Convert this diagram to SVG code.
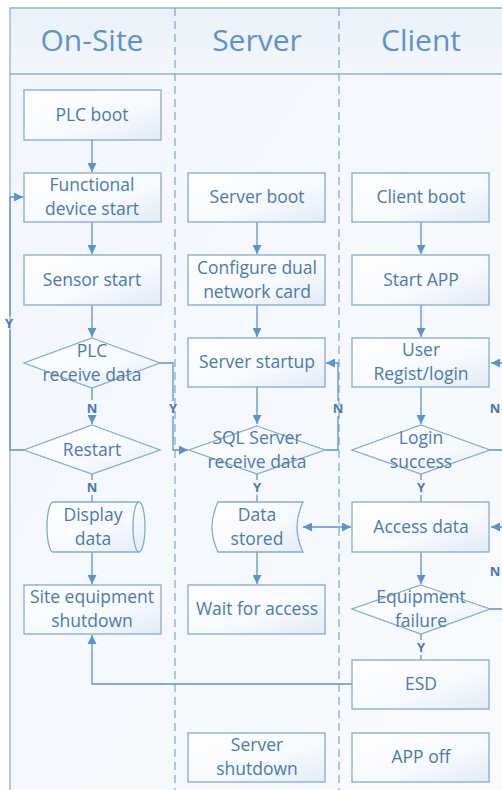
<svg xmlns="http://www.w3.org/2000/svg" width="502" height="790" viewBox="0 0 502 790">
<defs>
<linearGradient id="bg" x1="0" y1="0" x2="1" y2="1">
<stop offset="0" stop-color="#f2f6fb"/><stop offset="1" stop-color="#f8fafd"/>
</linearGradient>
<linearGradient id="hd" x1="0" y1="0" x2="0" y2="1">
<stop offset="0" stop-color="#eaf1f9"/><stop offset="1" stop-color="#f4f7fb"/>
</linearGradient>
<linearGradient id="nf" x1="0" y1="0" x2="1" y2="1">
<stop offset="0" stop-color="#ffffff"/><stop offset="0.6" stop-color="#f6f9fd"/><stop offset="1" stop-color="#e2ebf5"/>
</linearGradient>
<marker id="ar" viewBox="0 0 10 10" refX="10" refY="5" markerWidth="9" markerHeight="9" orient="auto-start-reverse" markerUnits="userSpaceOnUse">
<path d="M0,0 L10,5 L0,10 z" fill="#5b93cf"/>
</marker>
<style>
.n{fill:url(#nf);stroke:#86a9cf;stroke-width:1.3}
.t{font-family:"Open Sans","Noto Sans",sans-serif;font-size:17.5px;fill:#4a7ab0;text-anchor:middle}
.h{font-family:"Open Sans","Noto Sans",sans-serif;font-size:30px;fill:#5a93cf;text-anchor:middle}
.l{font-family:"Open Sans","Noto Sans",sans-serif;font-size:13px;font-weight:bold;fill:#4a7ab0;text-anchor:middle}
.c{fill:none;stroke:#5b93cf;stroke-width:1.3}
.lane{stroke:#7ea6cf;stroke-width:1.2;stroke-dasharray:8,5;fill:none}
</style>
</defs>
<rect x="0" y="0" width="502" height="790" fill="#ffffff"/>
<rect x="10" y="8" width="500" height="790" fill="url(#bg)"/>
<rect x="10" y="8" width="500" height="66" fill="url(#hd)"/>
<g id="frame">
<path d="M10,790 L10,8 L502,8" fill="none" stroke="#8fb2d6" stroke-width="1.3"/>
<path d="M10,74 L502,74" stroke="#8fb2d6" stroke-width="1.3"/>
<path class="lane" d="M175,8 L175,790"/>
<path class="lane" d="M339,8 L339,790"/>
<text class="h" x="92" y="51">On-Site</text>
<text class="h" x="257" y="51">Server</text>
<text class="h" x="421" y="51">Client</text>
</g>
<g id="connectors">
<path class="c" d="M92,140 L92,172" marker-end="url(#ar)"/>
<path class="c" d="M92,222 L92,254" marker-end="url(#ar)"/>
<path class="c" d="M92,305 L92,337" marker-end="url(#ar)"/>
<path class="c" d="M92,388 L92,400 M92,415 L92,424" marker-end="url(#ar)"/>
<path class="c" d="M92,474 L92,480 M92,495 L92,502"/>
<path class="c" d="M92,552 L92,584" marker-end="url(#ar)"/>
<path class="c" d="M24,450 L10,450 L10,330 M10,316 L10,197 L23,197" marker-end="url(#ar)"/>
<path class="c" d="M160,363 L173,363 L173,401 M173,416 L173,450 L188,450" marker-end="url(#ar)"/>
<path class="c" d="M257,222 L257,254" marker-end="url(#ar)"/>
<path class="c" d="M257,305 L257,337" marker-end="url(#ar)"/>
<path class="c" d="M257,387 L257,424" marker-end="url(#ar)"/>
<path class="c" d="M325,450 L338,450 L338,416 M338,401 L338,363 L326,363" marker-end="url(#ar)"/>
<path class="c" d="M257,474 L257,480 M257,495 L257,502"/>
<path class="c" d="M257,552 L257,584" marker-end="url(#ar)"/>
<path class="c" d="M303,527 L351,527" marker-start="url(#ar)" marker-end="url(#ar)"/>
<path class="c" d="M421,222 L421,254" marker-end="url(#ar)"/>
<path class="c" d="M421,305 L421,337" marker-end="url(#ar)"/>
<path class="c" d="M421,387 L421,424" marker-end="url(#ar)"/>
<path class="c" d="M490,450 L506,450 L506,363 L491,363" marker-end="url(#ar)"/>
<path class="c" d="M421,474 L421,480 M421,495 L421,502"/>
<path class="c" d="M421,552 L421,584" marker-end="url(#ar)"/>
<path class="c" d="M490,609 L506,609 L506,527 L491,527" marker-end="url(#ar)"/>
<path class="c" d="M421,634 L421,640 M421,655 L421,660"/>
<path class="c" d="M352,684 L92,684 L92,635" marker-end="url(#ar)"/>
<text class="l" x="92" y="413">N</text>
<text class="l" x="92" y="492">N</text>
<text class="l" x="9" y="328">Y</text>
<text class="l" x="173" y="413">Y</text>
<text class="l" x="338" y="413">N</text>
<text class="l" x="257" y="492">Y</text>
<text class="l" x="421" y="492">Y</text>
<text class="l" x="495" y="413">N</text>
<text class="l" x="495" y="576">N</text>
<text class="l" x="421" y="652">Y</text>
</g>
<g id="plc-boot"><rect class="n" x="24" y="90" width="137" height="50"/><text class="t" x="92" y="121">PLC boot</text></g>
<g id="functional-device-start"><rect class="n" x="24" y="173" width="137" height="49"/><text class="t" x="92" y="191">Functional</text><text class="t" x="92" y="215">device start</text></g>
<g id="sensor-start"><rect class="n" x="24" y="255" width="137" height="50"/><text class="t" x="92" y="286">Sensor start</text></g>
<g id="plc-receive-data"><path class="n" d="M92,338 L160,363 L92,388 L24,363 Z"/><text class="t" x="92" y="357">PLC</text><text class="t" x="92" y="381">receive data</text></g>
<g id="restart"><path class="n" d="M92,425 L160,450 L92,474 L24,450 Z"/><text class="t" x="92" y="456">Restart</text></g>
<g id="display-data"><path class="n" d="M53,502 L139,502 A6,25 0 0 1 139,552 L53,552 A6,25 0 0 1 53,502 Z"/><path d="M139,502 A6,25 0 0 0 139,552" fill="none" stroke="#86a9cf" stroke-width="1.3"/><text class="t" x="93" y="521">Display</text><text class="t" x="93" y="545">data</text></g>
<g id="site-equipment-shutdown"><rect class="n" x="24" y="585" width="137" height="49"/><text class="t" x="92" y="603">Site equipment</text><text class="t" x="92" y="627">shutdown</text></g>
<g id="server-boot"><rect class="n" x="188" y="173" width="137" height="49"/><text class="t" x="257" y="203">Server boot</text></g>
<g id="configure-dual-network-card"><rect class="n" x="188" y="255" width="137" height="50"/><text class="t" x="257" y="274">Configure dual</text><text class="t" x="257" y="298">network card</text></g>
<g id="server-startup"><rect class="n" x="188" y="338" width="137" height="49"/><text class="t" x="257" y="368">Server startup</text></g>
<g id="sql-server-receive-data"><path class="n" d="M257,426 L325,450 L257,474 L189,450 Z"/><text class="t" x="257" y="444">SQL Server</text><text class="t" x="257" y="468">receive data</text></g>
<g id="data-stored"><path class="n" d="M218,502 L303,502 Q291,527 303,552 L218,552 Q206,527 218,502 Z"/><text class="t" x="257" y="521">Data</text><text class="t" x="257" y="545">stored</text></g>
<g id="wait-for-access"><rect class="n" x="188" y="585" width="137" height="49"/><text class="t" x="257" y="615">Wait for access</text></g>
<g id="server-shutdown"><rect class="n" x="188" y="733" width="137" height="49"/><text class="t" x="257" y="751">Server</text><text class="t" x="257" y="775">shutdown</text></g>
<g id="client-boot"><rect class="n" x="352" y="173" width="137" height="49"/><text class="t" x="421" y="203">Client boot</text></g>
<g id="start-app"><rect class="n" x="352" y="255" width="137" height="50"/><text class="t" x="421" y="286">Start APP</text></g>
<g id="user-regist-login"><rect class="n" x="352" y="338" width="137" height="49"/><text class="t" x="421" y="356">User</text><text class="t" x="421" y="380">Regist/login</text></g>
<g id="login-success"><path class="n" d="M421,425 L490,450 L421,474 L352,450 Z"/><text class="t" x="421" y="444">Login</text><text class="t" x="421" y="468">success</text></g>
<g id="access-data"><rect class="n" x="352" y="502" width="137" height="50"/><text class="t" x="421" y="533">Access data</text></g>
<g id="equipment-failure"><path class="n" d="M421,585 L490,609 L421,634 L352,609 Z"/><text class="t" x="421" y="603">Equipment</text><text class="t" x="421" y="627">failure</text></g>
<g id="esd"><rect class="n" x="352" y="660" width="137" height="49"/><text class="t" x="421" y="690">ESD</text></g>
<g id="app-off"><rect class="n" x="352" y="733" width="137" height="49"/><text class="t" x="421" y="763">APP off</text></g>
</svg>
